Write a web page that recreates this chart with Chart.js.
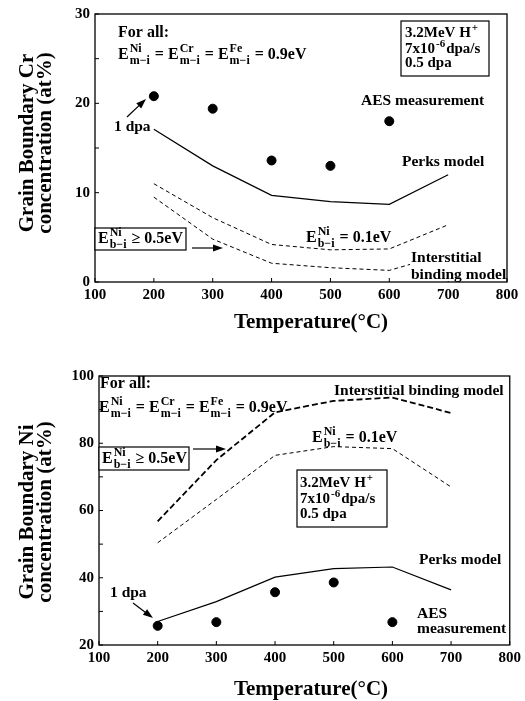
<!DOCTYPE html>
<html>
<head>
<meta charset="utf-8">
<script src="https://cdn.jsdelivr.net/npm/chart.js@4.4.0/dist/chart.umd.min.js"></script>
<style>
  body { margin: 0; background: #fff; }
  canvas { display: block; }
</style>
</head>
<body>
<canvas id="crChart" width="525" height="345"></canvas>
<canvas id="niChart" width="525" height="356"></canvas>
<script>
// temperatures (°C)
var temps = [200, 300, 400, 500, 600, 700];
var aesTemps = [200, 300, 400, 500, 600];
var xTickLabels = [100, 200, 300, 400, 500, 600, 700, 800];

// grain boundary Cr (at%)
var crAes = [20.8, 19.4, 13.6, 13.0, 18.0];
var crPerks = [17.1, 13.0, 9.7, 9.0, 8.7, 12.0];
var crWeak = [11.0, 7.2, 4.2, 3.6, 3.7, 6.4];     // Eb = 0.1 eV
var crStrong = [9.5, 4.8, 2.1, 1.6, 1.3, 3.2];    // Eb >= 0.5 eV
var crTickLabels = [0, 10, 20, 30];

// grain boundary Ni (at%)
var niAes = [25.7, 26.8, 35.7, 38.6, 26.8];
var niPerks = [27.0, 32.9, 40.2, 42.7, 43.2, 36.4];
var niWeak = [50.4, 63.3, 76.4, 79.0, 78.4, 67.0];
var niStrong = [56.8, 75.0, 89.2, 92.6, 93.6, 89.0];
var niTickLabels = [20, 40, 60, 80, 100];

var SERIF = '"Liberation Serif", "Times New Roman", serif';

function pts(xs, ys) {
  return xs.map(function (x, i) { return { x: x, y: ys[i] }; });
}

function font(size) {
  return 'bold ' + size + 'px ' + SERIF;
}

// draws text parts; objects {sup, sub} are stacked scripts
function richText(ctx, parts, x, y, size) {
  ctx.textAlign = 'left';
  ctx.textBaseline = 'alphabetic';
  parts.forEach(function (p) {
    if (typeof p === 'string') {
      ctx.font = font(size);
      ctx.fillText(p, x, y);
      x += ctx.measureText(p).width;
    } else {
      var s = Math.round(size * 0.72);
      ctx.font = font(s);
      var w = 0;
      if (p.sup) {
        ctx.fillText(p.sup, x + 1, y - size * 0.42);
        w = Math.max(w, ctx.measureText(p.sup).width);
      }
      if (p.sub) {
        ctx.fillText(p.sub, x + 1, y + size * 0.3);
        w = Math.max(w, ctx.measureText(p.sub).width);
      }
      x += w + 2;
    }
  });
  return x;
}

function arrow(ctx, x1, y1, x2, y2) {
  var a = Math.atan2(y2 - y1, x2 - x1);
  ctx.strokeStyle = '#000';
  ctx.lineWidth = 1.2;
  ctx.beginPath();
  ctx.moveTo(x1, y1);
  ctx.lineTo(x2 - 6 * Math.cos(a), y2 - 6 * Math.sin(a));
  ctx.stroke();
  ctx.beginPath();
  ctx.moveTo(x2, y2);
  ctx.lineTo(x2 - 10 * Math.cos(a) + 3.5 * Math.sin(a), y2 - 10 * Math.sin(a) - 3.5 * Math.cos(a));
  ctx.lineTo(x2 - 10 * Math.cos(a) - 3.5 * Math.sin(a), y2 - 10 * Math.sin(a) + 3.5 * Math.cos(a));
  ctx.closePath();
  ctx.fill();
}

function eq09() {
  return ['E', { sup: 'Ni', sub: 'm\u2212i' }, ' = E', { sup: 'Cr', sub: 'm\u2212i' },
          ' = E', { sup: 'Fe', sub: 'm\u2212i' }, ' = 0.9eV'];
}

// per-chart layout and annotations (kept outside chart options so they are not scriptable)
var decor = {
  crChart: {
    xAxisH: 63, yAxisW: 95, xTitleY: 323, yTitleY: 143,
    yTitle: ['Grain Boundary Cr', 'concentration (at%)'],
    draw: function (ctx) {
      richText(ctx, ['For all:'], 118, 37, 16);
      richText(ctx, eq09(), 118, 59, 16);

      ctx.lineWidth = 1.2;
      ctx.strokeRect(401, 21, 88, 55);
      richText(ctx, ['3.2MeV H', { sup: '+' }], 405, 37, 15);
      richText(ctx, ['7x10', { sup: '-6' }, 'dpa/s'], 405, 53, 15);
      richText(ctx, ['0.5 dpa'], 405, 67, 15);

      richText(ctx, ['AES measurement'], 361, 105, 15.5);
      richText(ctx, ['1 dpa'], 114, 131, 15.5);
      arrow(ctx, 127, 117, 146, 99);
      richText(ctx, ['Perks model'], 402, 166, 15.5);
      richText(ctx, ['E', { sup: 'Ni', sub: 'b\u2212i' }, ' = 0.1eV'], 306, 242, 16);

      ctx.fillStyle = '#fff';
      ctx.fillRect(410, 248, 96, 33);
      ctx.fillStyle = '#000';
      richText(ctx, ['Interstitial'], 411, 262, 15.5);
      richText(ctx, ['binding model'], 411, 279, 15.5);

      ctx.lineWidth = 1.2;
      ctx.fillStyle = '#fff';
      ctx.fillRect(95, 228, 91, 22);
      ctx.fillStyle = '#000';
      ctx.strokeRect(95, 228, 91, 22);
      richText(ctx, ['E', { sup: 'Ni', sub: 'b\u2212i' }, ' \u2265 0.5eV'], 98, 243, 16);
      arrow(ctx, 192, 248, 223, 248);
    }
  },
  niChart: {
    xAxisH: 56, yAxisW: 99, xTitleY: 345, yTitleY: 167,
    yTitle: ['Grain Boundary Ni', 'concentration (at%)'],
    draw: function (ctx) {
      richText(ctx, ['For all:'], 100, 43, 16);
      richText(ctx, eq09(), 99, 67, 16);
      richText(ctx, ['Interstitial binding model'], 334, 50, 15.5);
      richText(ctx, ['E', { sup: 'Ni', sub: 'b\u2212i' }, ' = 0.1eV'], 312, 97, 16);

      ctx.lineWidth = 1.2;
      ctx.fillStyle = '#fff';
      ctx.fillRect(99, 102, 90, 23);
      ctx.fillStyle = '#000';
      ctx.strokeRect(99, 102, 90, 23);
      richText(ctx, ['E', { sup: 'Ni', sub: 'b\u2212i' }, ' \u2265 0.5eV'], 102, 118, 16);
      arrow(ctx, 193, 104, 226, 104);

      ctx.strokeRect(297, 125, 90, 57);
      richText(ctx, ['3.2MeV H', { sup: '+' }], 300, 142, 15);
      richText(ctx, ['7x10', { sup: '-6' }, 'dpa/s'], 300, 158, 15);
      richText(ctx, ['0.5 dpa'], 300, 173, 15);

      richText(ctx, ['Perks model'], 419, 219, 15.5);
      richText(ctx, ['1 dpa'], 110, 252, 15.5);
      arrow(ctx, 133, 258, 153, 273);
      richText(ctx, ['AES'], 417, 273, 15.5);
      richText(ctx, ['measurement'], 417, 288, 15.5);
    }
  }
};

// frame, inward ticks, axis titles and annotations
var decorPlugin = {
  id: 'decor',
  afterDraw: function (chart) {
    var ctx = chart.ctx;
    var area = chart.chartArea;
    var o = decor[chart.canvas.id];
    ctx.save();
    ctx.strokeStyle = '#000';
    ctx.fillStyle = '#000';
    ctx.lineWidth = 1.3;
    ctx.strokeRect(area.left, area.top, area.right - area.left, area.bottom - area.top);

    ctx.lineWidth = 1;
    chart.scales.x.ticks.forEach(function (t) {
      var px = chart.scales.x.getPixelForValue(t.value);
      ctx.beginPath();
      ctx.moveTo(px, area.bottom);
      ctx.lineTo(px, area.bottom - 4);
      ctx.stroke();
    });
    chart.scales.y.ticks.forEach(function (t) {
      var py = chart.scales.y.getPixelForValue(t.value);
      ctx.beginPath();
      ctx.moveTo(area.left, py);
      ctx.lineTo(area.left + 4, py);
      ctx.stroke();
    });

    // x title
    ctx.font = font(21);
    ctx.textAlign = 'center';
    ctx.textBaseline = 'middle';
    ctx.fillText('Temperature(\u00b0C)', 311, o.xTitleY);

    // y title, two lines (x is the baseline position)
    ctx.textBaseline = 'alphabetic';
    [[o.yTitle[0], 33], [o.yTitle[1], 51]].forEach(function (l) {
      ctx.save();
      ctx.translate(l[1], o.yTitleY);
      ctx.rotate(-Math.PI / 2);
      ctx.fillText(l[0], 0, 0);
      ctx.restore();
    });

    o.draw(ctx);
    ctx.restore();
  }
};

function makeChart(id, data, yMin, yMax, yStep, yLabels, pad) {
  var o = decor[id];
  return new Chart(document.getElementById(id), {
    type: 'line',
    data: {
      datasets: [
        { data: pts(aesTemps, data.aes), showLine: false, pointRadius: 4.5,
          pointBackgroundColor: '#000', pointBorderColor: '#000' },
        { data: pts(temps, data.perks), borderColor: '#000', borderWidth: 1.2, pointRadius: 0 },
        { data: pts(temps, data.weak), borderColor: '#000', borderWidth: 1,
          borderDash: [4, 3], pointRadius: 0 },
        { data: pts(temps, data.strong), borderColor: '#000', borderWidth: data.strongWidth,
          borderDash: data.strongDash, pointRadius: 0 }
      ]
    },
    options: {
      responsive: false,
      animation: false,
      layout: { padding: pad },
      plugins: { legend: { display: false }, tooltip: { enabled: false } },
      elements: { line: { tension: 0, fill: false } },
      scales: {
        x: {
          type: 'linear', min: 100, max: 800,
          grid: { display: false, drawTicks: false },
          border: { display: false },
          afterFit: function (s) { s.height = o.xAxisH; },
          ticks: {
            stepSize: 100, autoSkip: false, padding: 4, color: '#000',
            font: { family: SERIF, size: 15, weight: 'bold' },
            callback: function (v) { return xTickLabels.indexOf(v) >= 0 ? String(v) : ''; }
          }
        },
        y: {
          min: yMin, max: yMax,
          grid: { display: false, drawTicks: false },
          border: { display: false },
          afterFit: function (s) { s.width = o.yAxisW; },
          ticks: {
            stepSize: yStep, autoSkip: false, padding: 5, color: '#000',
            font: { family: SERIF, size: 15, weight: 'bold' },
            callback: function (v) { return yLabels.indexOf(v) >= 0 ? String(v) : ''; }
          }
        }
      }
    },
    plugins: [decorPlugin]
  });
}

makeChart('crChart',
  { aes: crAes, perks: crPerks, weak: crWeak, strong: crStrong, strongWidth: 1, strongDash: [4, 3] },
  0, 30, 5, crTickLabels, { top: 13, right: 18, left: 0, bottom: 0 });

makeChart('niChart',
  { aes: niAes, perks: niPerks, weak: niWeak, strong: niStrong, strongWidth: 1.8, strongDash: [6, 3] },
  20, 100, 10, niTickLabels, { top: 31, right: 14, left: 0, bottom: 0 });
</script>
</body>
</html>
